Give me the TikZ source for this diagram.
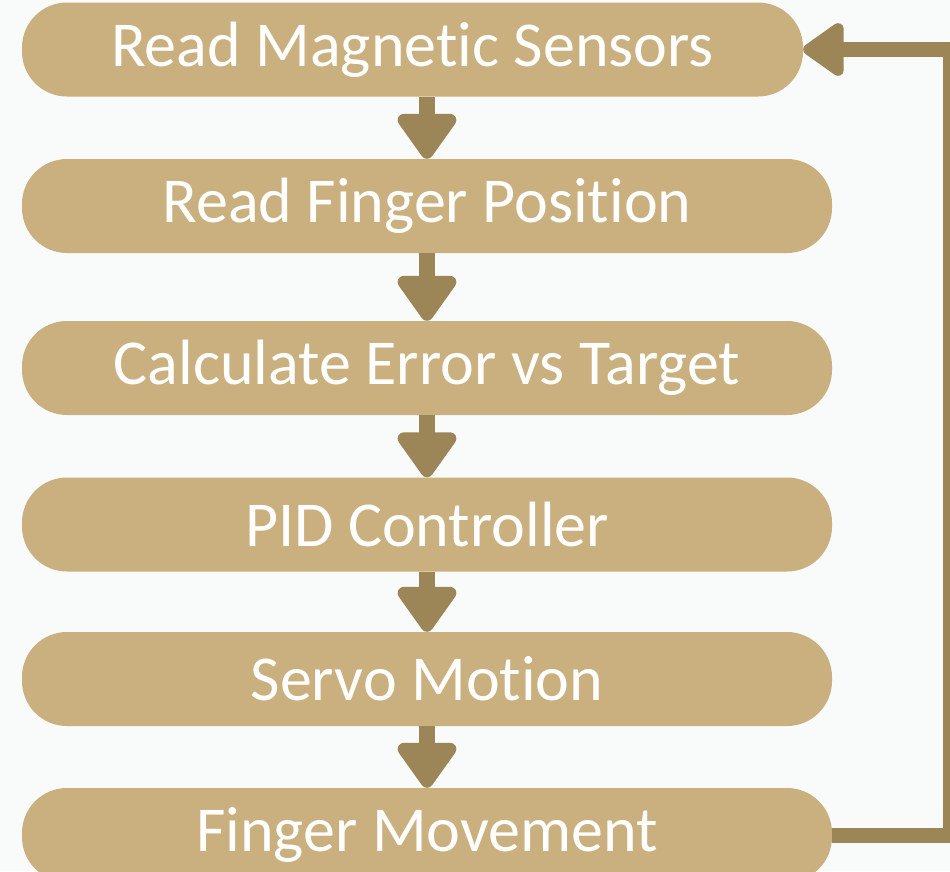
\documentclass[tikz,border=0pt]{standalone}
\usepackage{fontspec}
\setmainfont[Ligatures=NoCommon]{Carlito}
\usetikzlibrary{arrows.meta}

\definecolor{boxfill}{HTML}{C9B07E}
\definecolor{arrowcol}{HTML}{9C8658}
\definecolor{paper}{HTML}{F9FAFA}

\begin{document}
\begin{tikzpicture}[
  x=1pt, y=-1pt,
  stage/.style={fill=boxfill, text=white, rounded corners=45pt,
    minimum width=810pt, minimum height=94pt, inner sep=0pt,
    font=\fontsize{64}{66}\selectfont},
  flow/.style={draw=arrowcol, line width=16pt,
    -{Triangle[width=67pt, length=50pt, round]}},
  loopback/.style={draw=arrowcol, line width=15pt,
    -{Triangle[width=60pt, length=45pt, round]}}
]
\fill[paper] (0,0) rectangle (950,871);
\clip (0,0) rectangle (950,871);

% stages of the control loop
\node[stage, minimum width=781pt] (sensors) at (412.5,49.5) {Read Magnetic Sensors};
\node[stage] (position) at (427,206) {Read Finger Position};
\node[stage] (error) at (427,368) {Calculate Error vs Target};
\node[stage] (pid) at (427,524.5) {PID Controller};
\node[stage] (servo) at (427,679) {Servo Motion};
\node[stage] (movement) at (427,835) {Finger Movement};

\coordinate (back) at (950.5,0);

\draw[flow] (sensors.south -| position.center) -- (position.north);
\draw[flow] (position) -- (error);
\draw[flow] (error) -- (pid);
\draw[flow] (pid) -- (servo);
\draw[flow] (servo) -- (movement);

% feedback to the sensors
\draw[loopback] (movement.east) -- (movement.east -| back)
  -- (sensors.east -| back) -- (sensors.east);
\end{tikzpicture}
\end{document}
